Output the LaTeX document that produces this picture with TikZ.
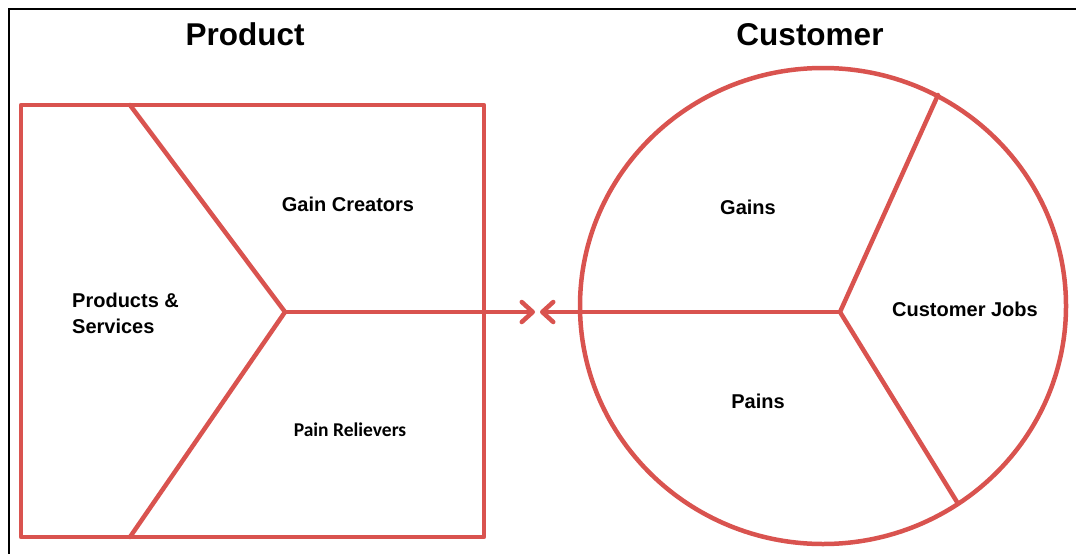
\documentclass[tikz,border=0pt]{standalone}
\usepackage{fontspec}
\setmainfont{Liberation Sans}
\newfontfamily\carlito{Carlito}
\usetikzlibrary{arrows.meta}
\definecolor{vpred}{RGB}{217,83,79}

\begin{document}
\begin{tikzpicture}[x=1pt,y=-1pt,
  redline/.style={draw=vpred,line width=4.5pt,line cap=round,line join=round},
  pointer/.style={redline,-{Straight Barb[length=11pt,width=20pt,round]}},
  heading/.style={font=\bfseries\fontsize{31.5}{36}\selectfont,anchor=base},
  part/.style={font=\bfseries\fontsize{20}{26}\selectfont,anchor=base}]
\useasboundingbox (0,0) rectangle (1076,554);
\draw [line width=2pt] (9,554) -- (9,9) -- (1076,9);
\node[heading] (product)  at (245,45) {Product};
\node[heading] (customer) at (810,45) {Customer};
\node[part] (creators)  at (348,211) {Gain Creators};
\node[part,font=\carlito\bfseries\fontsize{19.5}{26}\selectfont] (relievers) at (350,436) {Pain Relievers};
\node[part,anchor=west,align=left,inner sep=0pt] (services) at (72,313) {Products \&\\Services};
\node[part] (gains) at (748,214) {Gains};
\node[part] (pains) at (758,408) {Pains};
\node[part] (jobs)  at (965,316) {Customer Jobs};
\coordinate (pvhub) at (285,312);
\coordinate (pvtop) at (130,105);
\coordinate (pvbot) at (130,537);
\coordinate (pvtip) at (535,312);
\coordinate (cphub) at (840,312);
\coordinate (cptop) at (938,95);
\coordinate (cpbot) at (957,502);
\coordinate (cptip) at (540,312);
\draw [redline] (21,105) rectangle (484,537);
\draw [redline] (823,306) ellipse [x radius=243pt, y radius=238pt];
\draw [redline] (pvtop) -- (pvhub) -- (pvbot);
\draw [redline] (cptop) -- (cphub) -- (cpbot);
\draw [pointer] (pvhub) -- (pvtip);
\draw [pointer] (cphub) -- (cptip);
\end{tikzpicture}
\end{document}
